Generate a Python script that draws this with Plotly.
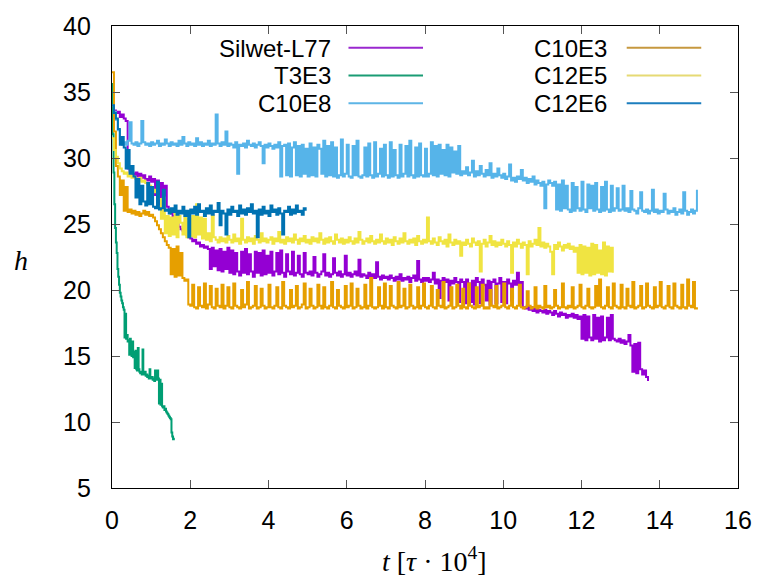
import numpy as np
import plotly.graph_objects as go

# Film thickness h sampled on a regular time grid (t in units of tau*10^4)
DT = 0.05        # sampling interval for most runs
DT_T3E3 = 0.02   # finer sampling for the fast-thinning T3E3 run

series_names = ["Silwet-L77", "T3E3", "C10E8", "C10E3", "C12E5", "C12E6"]
series_colors = ["#9400D3", "#009E73", "#56B4E9", "#E69F00", "#F0E442", "#0072B2"]
legend_colors = ["#9A28CF", "#1A9C74", "#5DB5E6", "#C6983F", "#E6DA74", "#1C7EBE"]

h_silwet = [
    34.0, 33.6, 33.4, 33.5, 33.1, 33.3, 33.0, 32.8, 29.2, 28.9, 28.8, 28.7, 28.9, 28.6, 28.8, 28.5, 28.7, 28.4, 28.3, 28.6,
    28.2, 28.4, 27.2, 28.3, 26.5, 28.1, 26.4, 27.9, 26.3, 26.0, 25.8, 25.6, 25.3, 25.1, 24.8, 24.6, 24.5, 24.3, 24.2, 24.0,
    23.9, 23.7, 23.8, 23.5, 23.6, 23.3, 23.4, 23.2, 23.3, 23.1, 21.6, 23.2, 21.8, 23.0, 21.5, 23.1, 21.4, 22.9, 21.6, 23.2,
    21.3, 23.0, 21.2, 22.8, 21.4, 21.1, 22.9, 21.3, 23.1, 21.2, 22.7, 21.4, 21.0, 22.9, 21.3, 22.8, 21.1, 23.0, 21.2, 22.6,
    21.3, 22.9, 21.1, 21.4, 22.8, 21.2, 23.0, 21.3, 21.0, 22.7, 21.4, 21.2, 22.9, 21.1, 21.3, 22.6, 21.2, 21.0, 22.8, 21.3,
    21.2, 21.4, 21.1, 22.5, 21.3, 21.0, 21.2, 21.4, 22.7, 21.1, 21.3, 21.0, 21.2, 22.4, 21.3, 21.1, 21.4, 21.0, 21.2, 22.6,
    21.1, 21.3, 21.0, 21.2, 21.4, 21.1, 22.3, 21.0, 21.2, 21.1, 20.9, 21.3, 21.0, 21.2, 20.9, 22.1, 21.0, 20.8, 21.1, 20.9,
    21.0, 20.8, 21.1, 20.9, 20.7, 21.0, 20.8, 21.2, 20.7, 20.9, 20.8, 21.0, 20.6, 20.9, 21.1, 20.7, 22.2, 20.8, 20.6, 20.9,
    20.7, 20.9, 20.6, 20.8, 21.3, 20.5, 20.8, 19.4, 20.7, 20.9, 20.6, 20.8, 19.2, 20.7, 20.5, 20.9, 20.6, 19.1, 20.8, 20.6,
    19.0, 20.8, 20.5, 19.1, 20.7, 18.9, 20.9, 20.6, 19.0, 20.8, 20.4, 19.2, 20.7, 18.9, 20.6, 20.8, 19.0, 20.5, 20.9, 19.1,
    20.6, 19.0, 20.8, 20.5, 19.2, 20.7, 20.4, 21.3, 19.0, 20.6, 18.7, 18.6, 18.8, 18.5, 18.7, 18.4, 18.6, 18.3, 18.5, 18.4,
    18.3, 18.5, 18.2, 18.4, 18.3, 18.1, 18.4, 18.2, 18.0, 18.3, 18.1, 18.2, 17.9, 18.1, 18.0, 18.2, 17.9, 18.1, 17.8, 18.0,
    16.3, 18.1, 16.2, 18.0, 16.4, 16.2, 18.1, 16.3, 17.9, 16.1, 18.0, 16.2, 16.4, 17.9, 16.2, 18.1, 16.3, 16.2, 16.1, 16.3,
    16.0, 16.2, 15.9, 16.1, 16.6, 15.8, 13.8, 15.9, 13.7, 16.0, 14.0, 13.6, 13.9, 13.4, 13.1,
]

h_t3e3 = [
    35.6, 31.8, 28.9, 26.5, 24.7, 23.6, 22.8, 21.6, 21.0, 20.4,
    19.8, 19.5, 19.2, 19.0, 18.7, 18.5, 16.4, 18.2, 16.3, 16.6,
    16.1, 16.2, 15.1, 16.3, 15.2, 15.0, 16.1, 14.9, 15.3, 14.1,
    15.4, 14.0, 13.9, 15.6, 14.0, 13.8, 13.7, 13.8, 13.6, 15.5,
    13.7, 13.6, 13.8, 13.5, 13.6, 13.4, 13.5, 13.3, 14.0, 13.4,
    13.3, 13.4, 13.2, 13.3, 13.1, 13.9, 13.3, 13.2, 13.9, 13.3,
    11.4, 13.2, 11.3, 12.9, 11.2, 11.1, 11.2, 10.9, 11.0, 10.8,
    10.7, 10.6, 10.5, 10.4, 10.3, 10.2, 9.2, 8.9, 8.7, 8.8,
]

h_c10e8 = [
    34.0, 33.5, 32.9, 32.1, 31.4, 31.0, 31.2, 31.0, 31.3, 32.7, 31.1, 31.0, 31.2, 30.9, 31.1, 32.8, 31.2, 31.0, 31.1, 30.9,
    31.2, 31.0, 31.1, 31.3, 30.9, 31.1, 31.0, 31.4, 31.1, 30.9, 31.2, 31.0, 31.1, 30.9, 31.3, 31.0, 31.6, 31.1, 30.9, 31.2,
    31.0, 31.1, 30.9, 31.5, 31.0, 31.2, 30.9, 31.1, 31.0, 31.3, 30.9, 31.1, 31.0, 33.3, 31.1, 30.9, 31.2, 31.0, 32.0, 30.9,
    31.1, 31.0, 30.8, 31.2, 28.8, 31.0, 30.9, 31.1, 30.8, 31.3, 31.0, 30.9, 31.1, 30.8, 31.0, 31.2, 30.9, 29.6, 31.0, 30.8,
    31.1, 30.9, 30.7, 31.0, 30.8, 31.2, 28.6, 30.9, 31.0, 28.7, 31.1, 28.6, 30.8, 31.2, 28.7, 30.9, 28.6, 31.0, 28.8, 30.7,
    28.6, 31.1, 28.7, 30.8, 28.6, 31.0, 30.7, 28.8, 31.3, 28.6, 30.9, 28.7, 31.2, 28.6, 30.8, 28.5, 28.7, 31.4, 28.6, 28.8,
    31.0, 28.6, 28.5, 30.9, 28.7, 31.3, 28.6, 28.5, 28.7, 30.8, 28.6, 31.1, 28.7, 28.5, 31.2, 28.6, 28.8, 30.7, 28.6, 31.0,
    28.7, 28.5, 31.2, 28.6, 30.6, 28.7, 28.5, 31.0, 28.6, 28.8, 30.9, 28.6, 31.3, 28.7, 28.5, 30.8, 28.6, 31.1, 28.7, 28.6,
    30.7, 28.6, 28.8, 31.2, 28.7, 30.9, 28.6, 31.0, 28.8, 30.6, 28.7, 31.0, 28.6, 30.8, 28.9, 30.5, 28.8, 30.9, 28.7, 29.0,
    28.8, 29.3, 28.7, 28.9, 29.8, 28.6, 29.0, 28.7, 29.4, 28.8, 28.6, 29.1, 28.7, 29.6, 28.5, 28.8, 28.6, 29.2, 28.7, 28.5,
    28.8, 28.4, 28.6, 29.5, 28.3, 28.5, 28.2, 28.6, 28.4, 29.1, 28.3, 28.5, 28.1, 28.4, 28.2, 28.6, 28.0, 28.3, 28.1, 27.9,
    28.2, 26.2, 28.0, 28.3, 28.1, 27.9, 28.2, 26.1, 28.0, 26.0, 28.3, 26.2, 27.9, 26.1, 25.9, 28.1, 26.0, 27.8, 26.2, 26.0,
    28.2, 26.1, 25.9, 28.0, 26.2, 27.9, 26.0, 28.1, 26.1, 25.9, 27.8, 26.0, 28.2, 26.1, 25.9, 27.9, 26.0, 26.2, 27.7, 26.0,
    26.1, 27.9, 26.0, 26.2, 25.9, 27.5, 26.1, 26.0, 25.8, 26.2, 27.4, 26.0, 25.9, 26.1, 25.8, 26.0, 27.6, 25.9, 26.1, 25.8,
    26.0, 25.9, 27.3, 26.1, 25.8, 26.0, 25.9, 26.2, 25.7, 25.9, 26.1, 25.8, 27.4, 26.0, 25.7, 25.9, 26.1, 25.8, 26.0, 27.6,
]

h_c10e3 = [
    36.5, 32.0, 29.4, 28.6, 27.2, 28.3, 26.0, 27.8, 25.9, 26.1, 25.8, 26.0, 25.7, 25.9, 25.6, 25.8, 26.0, 25.7, 25.9, 25.6,
    25.7, 25.5, 25.2, 24.9, 24.6, 24.3, 24.0, 23.7, 23.4, 23.2, 21.2, 23.1, 21.0, 23.3, 21.1, 22.8, 20.9, 20.7, 20.8, 18.9,
    18.8, 20.4, 18.7, 18.6, 20.2, 18.8, 18.7, 20.5, 18.6, 18.9, 20.3, 18.7, 18.6, 20.1, 18.8, 18.7, 20.4, 18.6, 18.8, 20.2,
    18.7, 18.6, 20.5, 18.8, 18.7, 18.6, 20.0, 18.7, 18.9, 20.6, 18.6, 18.7, 18.8, 20.3, 18.6, 18.7, 20.1, 18.8, 18.6, 18.7,
    20.4, 18.7, 18.6, 18.8, 20.2, 18.7, 18.6, 20.6, 18.8, 18.7, 18.6, 20.0, 18.7, 18.8, 20.3, 18.6, 18.7, 18.9, 20.5, 18.6,
    18.7, 20.1, 18.8, 18.6, 18.7, 20.4, 18.8, 18.6, 20.2, 18.7, 18.6, 18.8, 20.6, 18.7, 18.6, 20.0, 18.8, 18.7, 18.6, 20.3,
    18.7, 18.8, 20.5, 18.6, 18.7, 20.1, 18.8, 18.6, 18.7, 20.4, 18.6, 18.8, 20.9, 18.7, 18.6, 18.7, 20.2, 18.8, 18.6, 20.5,
    18.7, 18.6, 20.3, 18.8, 18.7, 18.6, 20.6, 18.7, 18.8, 20.1, 18.6, 18.7, 20.4, 18.8, 18.6, 18.7, 20.2, 18.6, 18.8, 20.5,
    18.7, 18.6, 18.8, 20.3, 18.7, 18.6, 20.0, 18.8, 18.7, 20.6, 18.6, 18.7, 18.8, 20.2, 18.6, 18.7, 20.4, 18.8, 18.6, 20.1,
    18.7, 18.6, 20.5, 18.8, 18.7, 18.6, 20.2, 18.7, 18.8, 20.4, 18.6, 18.7, 18.6, 20.0, 18.8, 18.7, 20.3, 18.6, 18.7, 18.8,
    20.5, 18.7, 18.6, 18.8, 20.1, 18.7, 18.6, 18.8, 20.4, 18.7, 18.6, 18.7, 19.9, 18.8, 18.6, 18.7, 20.2, 18.6, 18.8, 18.7,
    18.6, 20.3, 18.7, 18.8, 18.6, 18.7, 20.0, 18.8, 18.6, 18.7, 20.5, 18.7, 18.6, 18.8, 18.7, 20.2, 18.6, 18.7, 18.8, 20.4,
    18.7, 18.6, 18.8, 20.1, 18.7, 18.6, 18.7, 20.3, 18.8, 20.8, 18.7, 18.6, 18.8, 20.2, 18.7, 18.6, 20.5, 18.8, 18.7, 18.6,
    20.4, 18.7, 18.6, 20.1, 18.8, 18.7, 20.6, 18.6, 18.7, 18.8, 20.3, 18.6, 18.7, 20.5, 18.8, 18.7, 18.6, 20.2, 18.7, 18.8,
    20.6, 18.7, 18.6, 18.8, 20.3, 18.7, 18.6, 20.5, 18.8, 18.7, 18.6, 20.4, 18.7, 18.6, 20.8, 18.8, 18.7, 20.6, 18.6, 18.7,
]

h_c12e5 = [
    31.5, 30.6, 30.1, 29.6, 29.2, 29.0, 28.8, 28.9, 28.6, 28.7, 28.5, 28.6, 28.4, 28.3, 28.5, 28.2, 28.3, 28.1, 28.0, 27.9,
    27.8, 27.4, 27.6, 27.1, 26.9, 25.4, 27.0, 24.3, 25.6, 24.1, 25.5, 24.2, 25.8, 24.0, 25.6, 25.1, 24.2, 25.7, 24.0, 25.4,
    24.1, 25.6, 24.0, 26.5, 24.2, 25.5, 23.9, 25.4, 23.8, 24.3, 23.7, 25.6, 24.0, 23.8, 23.6, 24.0, 23.7, 23.9, 23.6, 24.1,
    23.8, 23.6, 24.2, 23.7, 23.9, 23.5, 25.4, 23.8, 23.6, 24.0, 23.7, 23.9, 23.5, 24.1, 23.8, 23.6, 24.3, 23.7, 23.9, 23.6,
    23.8, 24.0, 23.5, 23.9, 23.7, 24.4, 23.6, 23.8, 23.5, 24.0, 23.7, 23.9, 23.6, 24.2, 23.8, 23.5, 23.9, 23.7, 24.1, 23.6,
    23.8, 23.5, 24.0, 23.7, 23.9, 23.6, 24.3, 23.8, 23.5, 23.9, 23.6, 24.0, 23.7, 23.5, 24.2, 23.8, 23.6, 23.9, 23.5, 23.8,
    23.6, 24.0, 23.7, 23.5, 23.9, 23.6, 24.4, 23.8, 23.5, 23.7, 23.9, 23.6, 24.1, 23.7, 23.5, 23.8, 23.6, 24.2, 23.7, 23.5,
    23.9, 23.6, 23.8, 23.4, 24.0, 23.7, 23.5, 23.9, 23.6, 24.3, 23.7, 23.5, 23.8, 23.6, 23.9, 23.4, 24.1, 23.7, 23.5, 23.8,
    23.6, 25.5, 23.7, 23.5, 23.9, 23.6, 23.4, 24.0, 23.7, 23.5, 23.8, 23.3, 24.2, 23.6, 23.4, 23.8, 23.5, 23.7, 22.6, 23.6,
    23.4, 23.8, 23.5, 23.3, 23.9, 23.6, 23.4, 23.7, 21.4, 23.5, 23.8, 23.3, 23.6, 24.1, 23.4, 23.7, 23.3, 23.6, 23.4, 23.8,
    23.5, 23.3, 23.7, 23.4, 21.3, 23.6, 23.3, 23.8, 23.5, 23.2, 23.6, 23.4, 21.2, 23.7, 23.3, 23.5, 23.8, 23.4, 24.7, 23.3,
    23.6, 23.2, 23.5, 23.3, 22.9, 21.2, 23.4, 23.1, 23.6, 23.3, 23.0, 23.4, 23.2, 23.5, 23.1, 23.3, 22.9, 23.2, 21.3, 23.4,
    21.2, 23.3, 21.3, 23.2, 21.1, 23.5, 21.2, 23.4, 21.3, 23.0, 21.2, 23.6, 21.1, 23.3, 21.4, 23.2, 21.3,
]

h_c12e6 = [
    34.0, 33.4, 33.0, 32.2, 31.0, 31.6, 30.8, 29.2, 30.6, 28.8, 29.4, 28.6, 27.0, 28.4, 26.5, 27.9, 26.7, 26.4, 28.1, 26.5,
    27.8, 26.3, 26.2, 28.2, 26.1, 26.2, 27.6, 26.0, 26.1, 25.8, 26.2, 25.9, 26.4, 25.7, 26.0, 25.8, 26.3, 25.6, 26.0, 24.0,
    26.1, 25.8, 26.3, 25.7, 26.5, 25.9, 26.0, 25.6, 26.2, 25.8, 26.4, 25.7, 26.0, 25.9, 26.6, 24.9, 26.0, 25.8, 24.2, 26.1,
    25.7, 26.3, 25.9, 26.0, 25.6, 26.4, 25.8, 26.1, 25.7, 26.2, 25.9, 26.5, 25.8, 26.0, 24.0, 26.1, 25.7, 26.3, 25.8, 26.0,
    25.6, 26.4, 25.9, 26.1, 25.7, 26.2, 25.8, 24.2, 26.0, 25.9, 26.3, 25.7, 26.1, 25.8, 26.4, 25.9, 26.0, 25.7, 26.2, 26.0,
]

series_h = [h_silwet, h_t3e3, h_c10e8, h_c10e3, h_c12e5, h_c12e6]
series_dt = [DT, DT_T3E3, DT, DT, DT, DT]

x_ticks = [0, 2, 4, 6, 8, 10, 12, 14, 16]
y_ticks = [5, 10, 15, 20, 25, 30, 35, 40]

# Plot-area geometry (pixels) used to place the key and axis labels
W, H = 764, 584
L, R, T, B = 112, 22, 21, 96
PW, PH = W - L - R, H - T - B


def px(x):
    return (x - L) / PW


def py(y):
    return (H - B - y) / PH


fig = go.Figure()
for name, color, h, dt in zip(series_names, series_colors, series_h, series_dt):
    t = np.round(np.arange(len(h)) * dt, 3)
    # step-style segments give the sharp, vertical fluctuation spikes
    fig.add_trace(go.Scatter(
        x=t, y=h, mode="lines", name=name,
        line=dict(color=color, width=2, shape="hv"), showlegend=False,
    ))

# Key: right-aligned names with a line sample to the right (two columns)
font_main = "Liberation Sans, Arial, sans-serif"
key_rows = [43, 71, 99]
key_cols = [(333, 350, 425), (611, 630, 705)]
annotations = []
shapes = []
for i, (name, lc) in enumerate(zip(series_names, legend_colors)):
    col, row = divmod(i, 3)
    tx, l0, l1 = key_cols[col]
    yy = key_rows[row]
    annotations.append(dict(
        x=px(tx), y=py(yy), xref="paper", yref="paper", text=name,
        showarrow=False, xanchor="right", yanchor="middle",
        height=24, valign="middle", borderpad=0,
        font=dict(family=font_main, size=24, color="black"),
    ))
    shapes.append(dict(
        type="line", xref="paper", yref="paper",
        x0=px(l0), x1=px(l1), y0=py(yy), y1=py(yy),
        line=dict(color=lc, width=2),
    ))

font_math = "Liberation Serif, DejaVu Serif, serif"
annotations.append(dict(
    x=px(20), y=py(258), xref="paper", yref="paper", text="<i>h</i>",
    showarrow=False, xanchor="center", yanchor="middle",
    font=dict(family=font_math, size=28, color="black"),
))
annotations.append(dict(
    x=px(437), y=py(560), xref="paper", yref="paper",
    text="<i>t</i> [<i>τ</i> · 10<sup>4</sup>]",
    showarrow=False, xanchor="center", yanchor="middle",
    font=dict(family=font_math, size=28, color="black"),
))

axis_common = dict(
    showgrid=False, zeroline=False, showline=True, linecolor="black", linewidth=1.3,
    mirror="allticks", ticks="inside", ticklen=8, tickwidth=1, tickcolor="#555555",
    tickfont=dict(family=font_main, size=25, color="black"),
)

fig.update_layout(
    width=W, height=H,
    margin=dict(l=L, r=R, t=T, b=B),
    paper_bgcolor="white", plot_bgcolor="white",
    xaxis=dict(range=[0, 16], tickvals=x_ticks, ticklabelstandoff=10, **axis_common),
    yaxis=dict(range=[5, 40], tickvals=y_ticks, ticklabelstandoff=15, **axis_common),
    annotations=annotations, shapes=shapes,
)

fig.write_html("out.html")
